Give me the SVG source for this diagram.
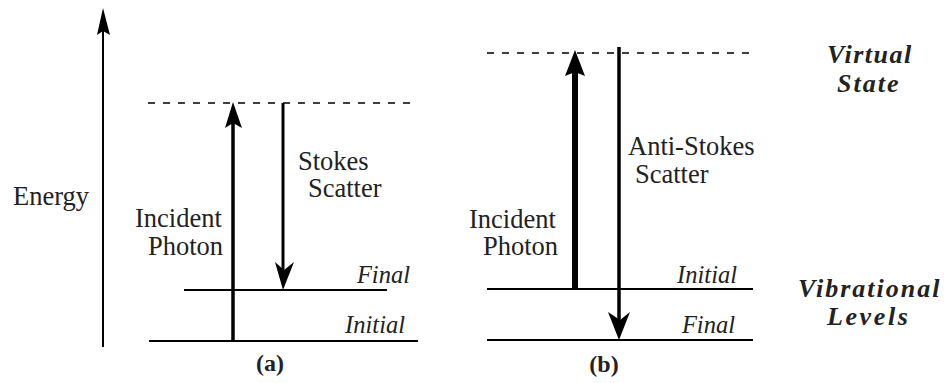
<svg xmlns="http://www.w3.org/2000/svg" width="944" height="383" viewBox="0 0 944 383">
<style>
.bg{fill:#fff}
.lvl{stroke:#000;stroke-width:2;fill:none}
.dash{stroke:#000;stroke-width:1.6;stroke-dasharray:7 8;fill:none}
.shaft{stroke:#000;fill:none}
.head{fill:#000;stroke:none}
text{fill:#222;font-family:'Liberation Serif','DejaVu Serif','Times New Roman',serif}
.lbl{font-size:26.5px}
.it{font-size:24.5px;font-style:italic;text-anchor:end}
.bi{font-size:26px;font-style:italic;font-weight:bold}
.cap{font-size:24px;font-weight:bold;text-anchor:middle}
</style>
<rect class="bg" x="0" y="0" width="944" height="383"/>
<g id="energy-axis">
<text class="lbl" x="13" y="205">Energy</text>
</g>
<g id="panel-a">
<line id="a-virtual" class="dash" x1="148" y1="103" x2="418" y2="103"/>
<line id="a-final" class="lvl" x1="184" y1="290" x2="387" y2="290"/>
<line id="a-initial" class="lvl" x1="149" y1="341" x2="418" y2="341"/>
<text class="lbl" x="135" y="227">Incident</text>
<text class="lbl" x="148" y="255">Photon</text>
<text class="lbl" x="298" y="170">Stokes</text>
<text class="lbl" x="308" y="197">Scatter</text>
<text class="it" x="410" y="283">Final</text>
<text class="it" x="405" y="333">Initial</text>
<text class="cap" x="270" y="371">(a)</text>
</g>
<g id="panel-b">
<line id="b-virtual" class="dash" x1="487" y1="53" x2="753" y2="53"/>
<line id="b-initial" class="lvl" x1="487" y1="289" x2="753" y2="289"/>
<line id="b-final" class="lvl" x1="487" y1="340" x2="753" y2="340"/>
<text class="lbl" x="469" y="228">Incident</text>
<text class="lbl" x="483" y="255">Photon</text>
<text class="lbl" x="628" y="155">Anti-Stokes</text>
<text class="lbl" x="635" y="183">Scatter</text>
<text class="it" x="737" y="283">Initial</text>
<text class="it" x="735" y="333">Final</text>
<text class="cap" x="604" y="372">(b)</text>
</g>
<g id="legend">
<text class="bi" x="827" y="63" letter-spacing="1.5">Virtual</text>
<text class="bi" x="837" y="92" letter-spacing="2">State</text>
<text class="bi" x="798" y="297" letter-spacing="2">Vibrational</text>
<text class="bi" x="827" y="325" letter-spacing="2.6">Levels</text>
</g>
<g id="connectors">
<line class="shaft" stroke-width="2" x1="103" y1="347" x2="103" y2="30"/>
<polygon class="head" points="103,8 110,35 103,31 97,35"/>
<line class="shaft" stroke-width="3.5" x1="233" y1="341" x2="233" y2="122"/>
<polygon class="head" points="233,102 242,128 233,123 225,128"/>
<line class="shaft" stroke-width="3" x1="283" y1="103" x2="283" y2="270"/>
<polygon class="head" points="283,290 294,262 284,270 275,262"/>
<line class="shaft" stroke-width="6" x1="575" y1="289" x2="575" y2="70"/>
<polygon class="head" points="575,50 585,76 575,72 565,76"/>
<line class="shaft" stroke-width="3.5" x1="619" y1="47" x2="619" y2="320"/>
<polygon class="head" points="619,340 630,312 620,320 608,312"/>
</g>
</svg>
